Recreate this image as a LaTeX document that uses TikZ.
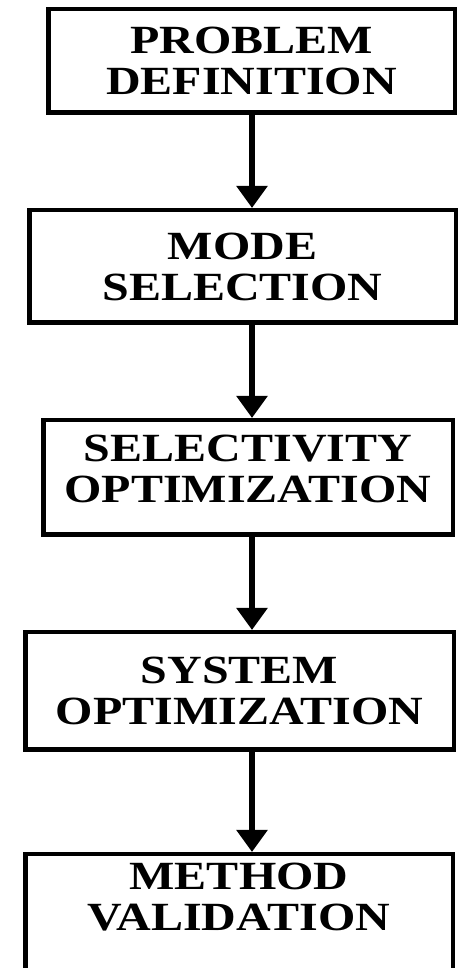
\documentclass[tikz,border=0pt]{standalone}
\usepackage{fontspec}
\setmainfont{Liberation Serif}[FakeStretch=1.2]
\usetikzlibrary{arrows.meta}

\begin{document}
\begin{tikzpicture}[
  x=1pt,y=1pt,
  font=\fontsize{40}{41}\selectfont\bfseries,
  stage/.style={draw,line width=4.5pt,align=center,inner sep=0pt},
  ar/.style={-{Triangle[width=30pt,length=22pt]},line width=5.5pt}
]
\useasboundingbox (0,0) rectangle (460,968);
\clip (0,0) rectangle (460,968);
\coordinate (axis) at (252,0);

\node[stage,minimum width=406.5pt,minimum height=103.5pt] (def) at (251.5,907)
  {PROBLEM\\DEFINITION};
\node[stage,minimum width=426.5pt,minimum height=112.5pt] (mode) at (242.5,701.5)
  {MODE\\SELECTION};
\node[stage,minimum width=409.5pt,minimum height=114.5pt,text depth=18pt] (sel) at (248,490.5)
  {SELECTIVITY\\OPTIMIZATION};
\node[stage,minimum width=428.5pt,minimum height=117.5pt] (sys) at (239.5,277)
  {SYSTEM\\OPTIMIZATION};
\node[stage,minimum width=427.5pt,minimum height=128.5pt,text depth=43pt] (val) at (239,49.5)
  {METHOD\\VALIDATION};

\draw[ar] (axis |- def.south) -- (axis |- mode.north);
\draw[ar] (axis |- mode.south) -- (axis |- sel.north);
\draw[ar] (axis |- sel.south) -- (axis |- sys.north);
\draw[ar] (axis |- sys.south) -- (axis |- val.north);
\end{tikzpicture}
\end{document}
